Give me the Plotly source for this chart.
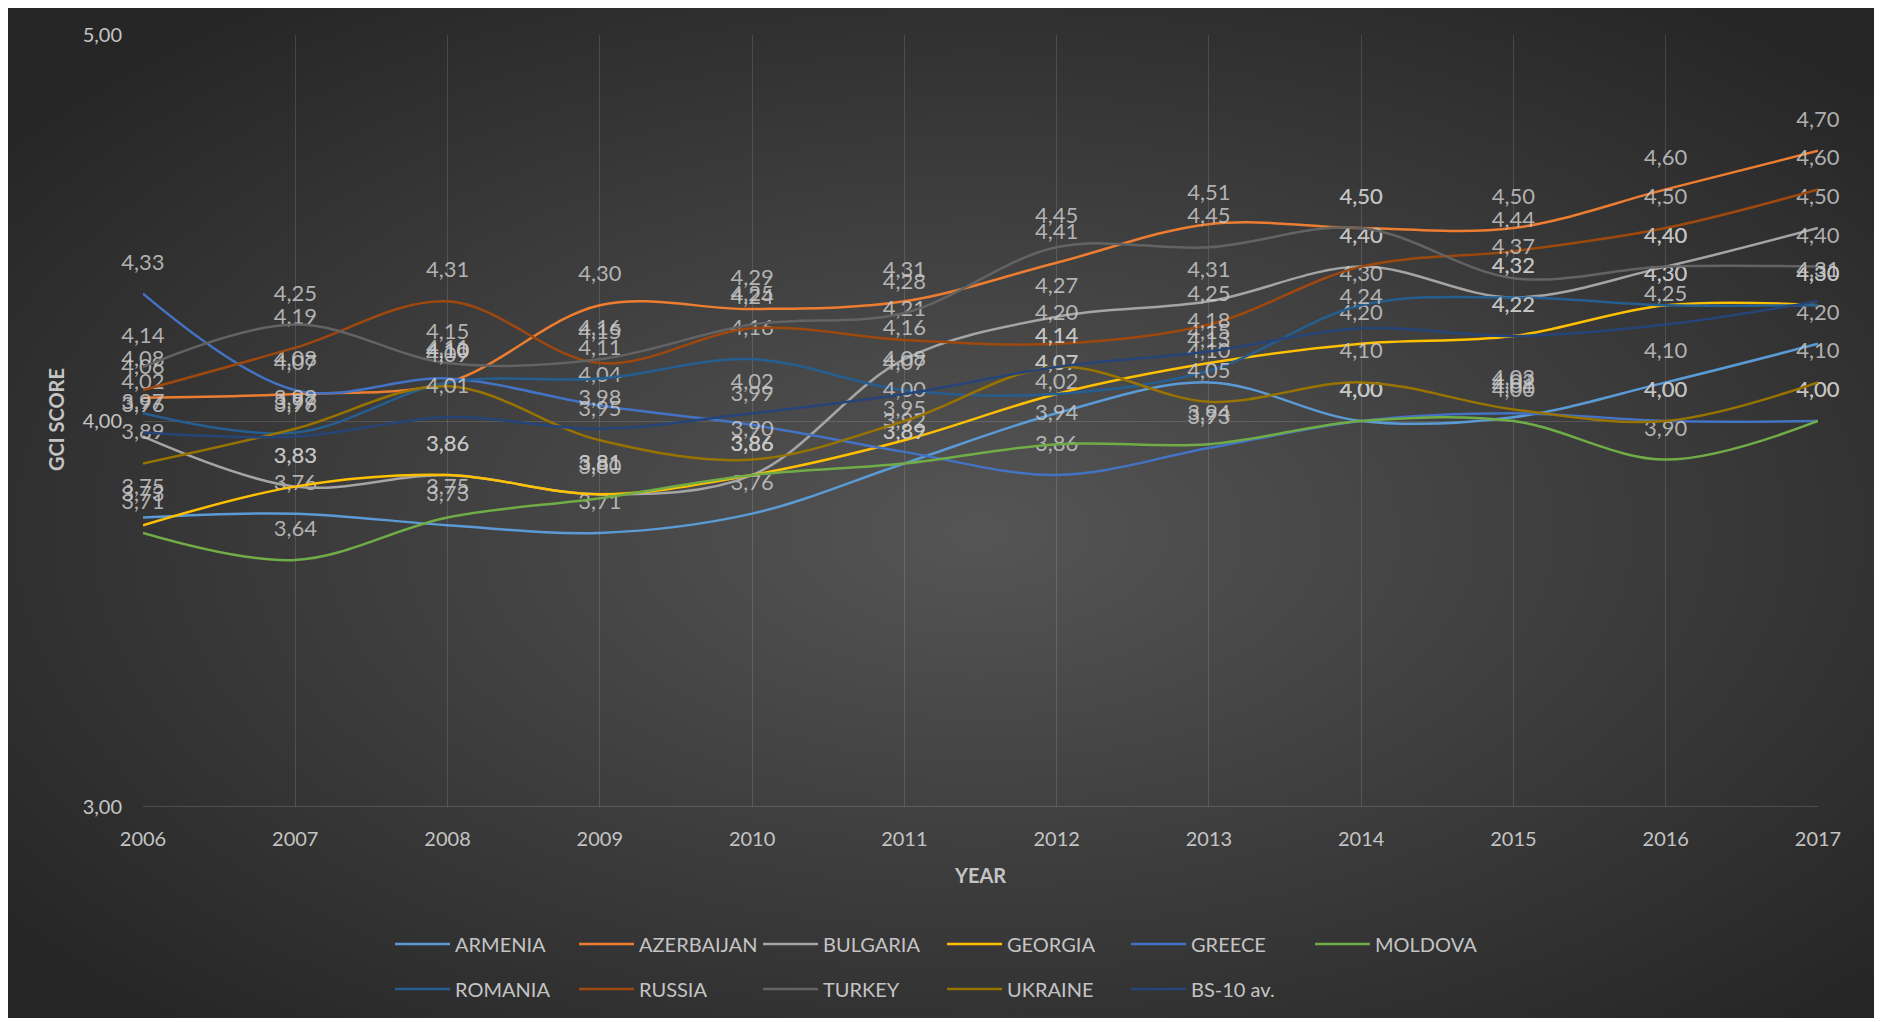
import base64
import plotly.graph_objects as go

years = [2006, 2007, 2008, 2009, 2010, 2011, 2012, 2013, 2014, 2015, 2016, 2017]

armenia    = [3.75, 3.76, 3.73, 3.71, 3.76, 3.89, 4.02, 4.10, 4.00, 4.01, 4.10, 4.20]
azerbaijan = [4.06, 4.07, 4.10, 4.30, 4.29, 4.31, 4.41, 4.51, 4.50, 4.50, 4.60, 4.70]
bulgaria   = [3.96, 3.83, 3.86, 3.81, 3.86, 4.16, 4.27, 4.31, 4.40, 4.32, 4.40, 4.50]
georgia    = [3.73, 3.83, 3.86, 3.81, 3.86, 3.95, 4.07, 4.15, 4.20, 4.22, 4.30, 4.30]
greece     = [4.33, 4.08, 4.11, 4.04, 3.99, 3.92, 3.86, 3.93, 4.00, 4.02, 4.00, 4.00]
moldova    = [3.71, 3.64, 3.75, 3.80, 3.86, 3.89, 3.94, 3.94, 4.00, 4.00, 3.90, 4.00]
romania    = [4.02, 3.97, 4.10, 4.11, 4.16, 4.08, 4.07, 4.13, 4.30, 4.32, 4.30, 4.30]
russia     = [4.08, 4.19, 4.31, 4.15, 4.24, 4.21, 4.20, 4.25, 4.40, 4.44, 4.50, 4.60]
turkey     = [4.14, 4.25, 4.15, 4.16, 4.25, 4.28, 4.45, 4.45, 4.50, 4.37, 4.40, 4.40]
ukraine    = [3.89, 3.98, 4.09, 3.95, 3.90, 4.00, 4.14, 4.05, 4.10, 4.03, 4.00, 4.10]
bs10_avg   = [3.97, 3.96, 4.01, 3.98, 4.02, 4.07, 4.14, 4.18, 4.24, 4.22, 4.25, 4.31]

y_tick_vals = [3, 4, 5]
y_tick_text = ["3,00", "4,00", "5,00"]

series = [
    ("ARMENIA", armenia, "#5B9BD5", "legend"),
    ("AZERBAIJAN", azerbaijan, "#ED7D31", "legend"),
    ("BULGARIA", bulgaria, "#A5A5A5", "legend"),
    ("GEORGIA", georgia, "#FFC000", "legend"),
    ("GREECE", greece, "#4472C4", "legend"),
    ("MOLDOVA", moldova, "#70AD47", "legend"),
    ("ROMANIA", romania, "#255E91", "legend2"),
    ("RUSSIA", russia, "#9E480E", "legend2"),
    ("TURKEY", turkey, "#636363", "legend2"),
    ("UKRAINE", ukraine, "#997300", "legend2"),
    ("BS-10 av.", bs10_avg, "#264478", "legend2"),
]

FONT = "Lato, 'Open Sans', sans-serif"
TXT = "#c4c4c4"

OFF = 8  # page body margin offset
W, H = 1882 - OFF, 1022 - OFF
L, T = 143 - OFF, 35 - OFF
R = W - (1818 - OFF)
B = H - (807 - OFF)
PW, PH = W - L - R, H - T - B


def px(xp):
    return (xp - OFF - L) / PW


def py(yp):
    return (H - B - (yp - OFF)) / PH


fig = go.Figure()
for name, vals, color, lg in series:
    fig.add_trace(go.Scatter(
        x=years, y=vals, name=name, legend=lg,
        mode="lines+markers+text",
        line=dict(color=color, width=2.5, shape="spline", smoothing=1.0),
        marker=dict(size=28, color="rgba(0,0,0,0)", opacity=0),
        text=[f"{v:.2f}".replace(".", ",") for v in vals],
        textposition="top center",
        textfont=dict(family=FONT, size=22, color="rgba(200,200,200,0.85)"),
        cliponaxis=False,
        hoverinfo="skip",
    ))

svg = '''<svg xmlns="http://www.w3.org/2000/svg" width="1866" height="1012" viewBox="0 0 1866 1012">
<defs><radialGradient id="g" cx="52%" cy="52%" r="65%">
<stop offset="0%" stop-color="#555555"/><stop offset="100%" stop-color="#262626"/>
</radialGradient></defs>
<rect width="1866" height="1012" fill="url(#g)"/></svg>'''
src = "data:image/svg+xml;base64," + base64.b64encode(svg.encode()).decode()

x0p, x1p, y0p, y1p = 8, 1874, 6, 1018
fig.add_layout_image(dict(
    source=src, xref="paper", yref="paper",
    x=px(x0p), y=py(y0p),
    sizex=(x1p - x0p) / PW, sizey=(y1p - y0p) / PH,
    xanchor="left", yanchor="top", sizing="stretch", layer="below",
))

legend_common = dict(
    orientation="h", entrywidth=114, entrywidthmode="pixels",
    font=dict(family=FONT, size=20, color=TXT),
    bgcolor="rgba(0,0,0,0)", itemwidth=55,
    xanchor="left", yanchor="middle",
)

fig.update_layout(
    width=W, height=H,
    margin=dict(l=L, r=R, t=T, b=B),
    paper_bgcolor="white",
    plot_bgcolor="rgba(0,0,0,0)",
    font=dict(family=FONT, color=TXT),
    showlegend=True,
    legend=dict(**legend_common, x=px(390), y=py(944)),
    legend2=dict(**legend_common, x=px(390), y=py(989)),
    xaxis=dict(
        range=[2006, 2017], tickvals=years, ticktext=[str(y) for y in years],
        showgrid=True, gridcolor="rgba(255,255,255,0.13)", gridwidth=1,
        zeroline=False, showline=False, ticks="",
        tickfont=dict(family=FONT, size=20, color=TXT),
        ticklabelstandoff=18,
    ),
    yaxis=dict(
        range=[3, 5], tickvals=y_tick_vals, ticktext=y_tick_text,
        showgrid=True, gridcolor="rgba(255,255,255,0.13)", gridwidth=1,
        zeroline=False, showline=False, ticks="",
        tickfont=dict(family=FONT, size=20, color=TXT),
        ticklabelstandoff=20,
    ),
    annotations=[
        dict(text="<b>GCI SCORE</b>", xref="paper", yref="paper",
             x=px(56), y=py(420), textangle=-90,
             showarrow=False, xanchor="center", yanchor="middle",
             font=dict(family=FONT, size=20, color=TXT)),
        dict(text="<b>YEAR</b>", xref="paper", yref="paper",
             x=px(980), y=py(875),
             showarrow=False, xanchor="center", yanchor="middle",
             font=dict(family=FONT, size=20, color=TXT)),
    ],
)

fig.add_shape(type="line", xref="paper", yref="y", x0=0, x1=1, y0=3, y1=3,
              line=dict(color="rgba(255,255,255,0.3)", width=1), layer="below")

fig.write_html("out.html")
